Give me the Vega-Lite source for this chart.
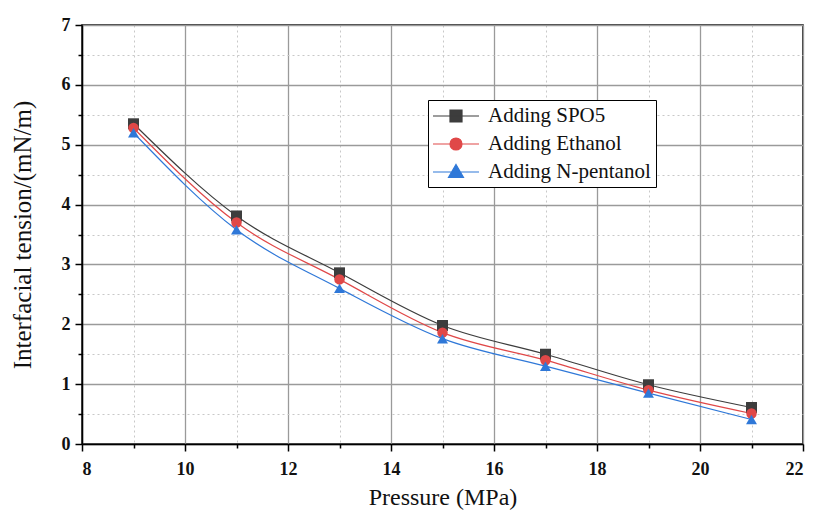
{
  "$schema": "https://vega.github.io/schema/vega-lite/v6.json",
  "width": 721,
  "height": 419,
  "autosize": {"type": "none"},
  "padding": {"left": 82, "top": 25, "right": 11, "bottom": 70},
  "background": "white",
  "config": {
    "font": "Liberation Serif",
    "view": {"stroke": "#000", "strokeWidth": 1.5},
    "axis": {"labelFont": "Liberation Serif", "titleFont": "Liberation Serif"},
    "legend": {"labelFont": "Liberation Serif"}
  },
  "data": {
    "values": [
      {"p": 9, "t": 5.35, "s": "Adding SPO5"},
      {"p": 11, "t": 3.81, "s": "Adding SPO5"},
      {"p": 13, "t": 2.86, "s": "Adding SPO5"},
      {"p": 15, "t": 1.98, "s": "Adding SPO5"},
      {"p": 17, "t": 1.5, "s": "Adding SPO5"},
      {"p": 19, "t": 0.99, "s": "Adding SPO5"},
      {"p": 21, "t": 0.61, "s": "Adding SPO5"},
      {"p": 9, "t": 5.28, "s": "Adding Ethanol"},
      {"p": 11, "t": 3.7, "s": "Adding Ethanol"},
      {"p": 13, "t": 2.75, "s": "Adding Ethanol"},
      {"p": 15, "t": 1.86, "s": "Adding Ethanol"},
      {"p": 17, "t": 1.4, "s": "Adding Ethanol"},
      {"p": 19, "t": 0.9, "s": "Adding Ethanol"},
      {"p": 21, "t": 0.51, "s": "Adding Ethanol"},
      {"p": 9, "t": 5.2, "s": "Adding N-pentanol"},
      {"p": 11, "t": 3.58, "s": "Adding N-pentanol"},
      {"p": 13, "t": 2.6, "s": "Adding N-pentanol"},
      {"p": 15, "t": 1.76, "s": "Adding N-pentanol"},
      {"p": 17, "t": 1.3, "s": "Adding N-pentanol"},
      {"p": 19, "t": 0.85, "s": "Adding N-pentanol"},
      {"p": 21, "t": 0.41, "s": "Adding N-pentanol"}
    ]
  },
  "encoding": {
    "x": {
      "field": "p", "type": "quantitative",
      "scale": {"domain": [8, 22], "nice": false, "zero": false},
      "axis": {
        "title": "Pressure (MPa)",
        "titleFont": "Liberation Serif", "titleFontSize": 24, "titleFontWeight": "normal", "titleColor": "#111", "titlePadding": 7,
        "values": [8, 9, 10, 11, 12, 13, 14, 15, 16, 17, 18, 19, 20, 21, 22],
        "format": "d",
        "labelExpr": "datum.value % 2 === 0 ? datum.label : ''",
        "labelFont": "Liberation Serif", "labelFontSize": 18, "labelFontWeight": "bold", "labelColor": "#111", "labelPadding": 9,
        "domainColor": "#000", "domainWidth": 1.5,
        "tickColor": "#000", "tickWidth": 1.5,
        "tickSize": {"condition": {"test": "datum.value % 2 === 1", "value": 4}, "value": 7},
        "grid": true,
        "gridColor": {"condition": {"test": "datum.value % 2 === 1", "value": "#c8c8c8"}, "value": "#9a9a9a"},
        "gridDash": {"condition": {"test": "datum.value % 2 === 1", "value": [2, 3]}, "value": []},
        "gridWidth": {"condition": {"test": "datum.value % 2 === 1", "value": 1}, "value": 1.3}
      }
    },
    "y": {
      "field": "t", "type": "quantitative",
      "scale": {"domain": [0, 7], "nice": false},
      "axis": {
        "title": "Interfacial tension/(mN/m)",
        "titleFont": "Liberation Serif", "titleFontSize": 25, "titleFontWeight": "normal", "titleColor": "#111", "titlePadding": 26,
        "values": [0, 0.5, 1, 1.5, 2, 2.5, 3, 3.5, 4, 4.5, 5, 5.5, 6, 6.5, 7],
        "format": "~g",
        "labelExpr": "datum.value % 1 === 0 ? datum.label : ''",
        "labelFont": "Liberation Serif", "labelFontSize": 18, "labelFontWeight": "bold", "labelColor": "#111", "labelPadding": 5,
        "domainColor": "#000", "domainWidth": 1.5,
        "tickColor": "#000", "tickWidth": 1.5,
        "tickSize": {"condition": {"test": "datum.value % 1 !== 0", "value": 4}, "value": 7},
        "grid": true,
        "gridColor": {"condition": {"test": "datum.value % 1 !== 0", "value": "#c8c8c8"}, "value": "#9a9a9a"},
        "gridDash": {"condition": {"test": "datum.value % 1 !== 0", "value": [2, 3]}, "value": []},
        "gridWidth": {"condition": {"test": "datum.value % 1 !== 0", "value": 1}, "value": 1.3}
      }
    },
    "color": {
      "field": "s", "type": "nominal",
      "scale": {"domain": ["Adding SPO5", "Adding Ethanol", "Adding N-pentanol"], "range": ["#3d3d3d", "#e04848", "#2f78d8"]},
      "legend": {
        "title": null,
        "orient": "none", "legendX": 346, "legendY": 75,
        "fillColor": "white", "strokeColor": "#000", "padding": 5,
        "symbolSize": 400, "symbolOffset": 12, "labelOffset": 21,
        "labelFont": "Liberation Serif", "labelFontSize": 21, "labelColor": "#111", "labelLimit": 400,
        "rowPadding": 7,
        "encode": {
          "symbols": {
            "update": {
              "shape": {"signal": "datum.value === 'Adding SPO5' ? 'M-2.3,0H2.3M-0.6,-0.6H0.6V0.6H-0.6Z' : datum.value === 'Adding Ethanol' ? 'M-2.3,0H2.3M0.6,0A0.6,0.6,0,1,1,-0.6,0A0.6,0.6,0,1,1,0.6,0Z' : 'M-2.3,0H2.3M0,-0.75L0.75,0.55H-0.75Z'"},
              "size": {"value": 400},
              "strokeWidth": {"value": 1.2},
              "fill": {"scale": "color", "field": "value"},
              "stroke": {"scale": "color", "field": "value"},
              "opacity": {"value": 1}
            }
          }
        }
      }
    }
  },
  "layer": [
    {
      "mark": {"type": "line", "interpolate": "monotone", "strokeWidth": 1.2}
    },
    {
      "transform": [{"filter": "datum.s === 'Adding SPO5'"}],
      "mark": {"type": "point", "filled": true, "opacity": 1, "size": 120, "shape": "square"}
    },
    {
      "transform": [{"filter": "datum.s === 'Adding Ethanol'"}],
      "mark": {"type": "point", "filled": true, "opacity": 1, "size": 110, "shape": "circle"}
    },
    {
      "transform": [{"filter": "datum.s === 'Adding N-pentanol'"}],
      "mark": {"type": "point", "filled": true, "opacity": 1, "size": 120, "shape": "triangle-up"}
    }
  ]
}
